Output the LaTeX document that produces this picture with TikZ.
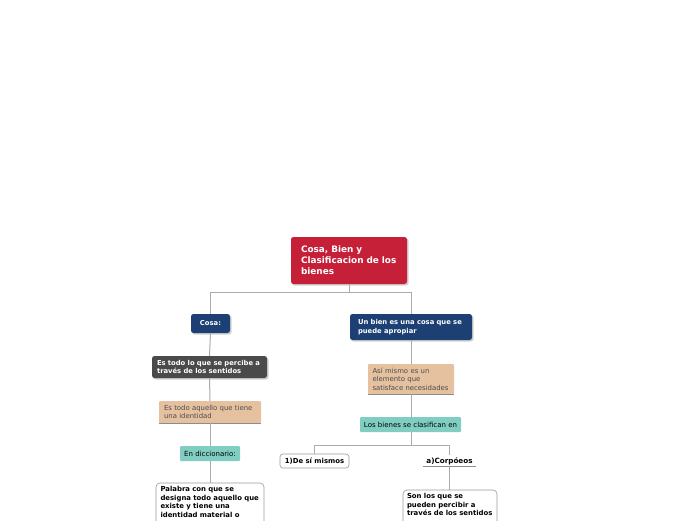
\documentclass[tikz,border=0pt]{standalone}
\usepackage{fontspec}
\setmainfont{DejaVu Sans}
\begin{document}
\begin{tikzpicture}[x=1pt,y=-1pt,
  conn/.style={draw=black!33, line width=1pt},
  basebox/.style={rounded corners=2.5pt, inner ysep=0pt, outer sep=0pt, anchor=center},
  rootbox/.style={basebox, fill=rootred, text=white, font=\bfseries\fontsize{8.9}{10.9}\selectfont, align=left},
  bluebox/.style={basebox, fill=darkblue, text=white, font=\bfseries\fontsize{6.8}{8.6}\selectfont, align=left},
  graybox/.style={basebox, fill=darkgray, text=white, font=\bfseries\fontsize{6.8}{8.6}\selectfont, align=left},
  tanbox/.style={basebox, rounded corners=1pt, fill=tanfill, text=black!70, font=\fontsize{6.9}{8.7}\selectfont, align=left},
  tealbox/.style={basebox, rounded corners=1pt, fill=tealfill, text=black, font=\fontsize{7}{8}\selectfont, align=center},
  whitebox/.style={basebox, rounded corners=4pt, draw=black!40, line width=0.6pt, fill=white, text=black, font=\bfseries\fontsize{6.9}{8.5}\selectfont, align=left},
  opentext/.style={basebox, text=black, font=\bfseries\fontsize{6.9}{8.5}\selectfont, align=left},
  openframe/.style={draw=black!40, line width=0.6pt, rounded corners=4pt}
]
\definecolor{rootred}{HTML}{C61F38}
\definecolor{darkblue}{HTML}{1C3F74}
\definecolor{darkgray}{HTML}{4A4A4A}
\definecolor{tanfill}{HTML}{E5C1A0}
\definecolor{tealfill}{HTML}{7FCEC1}
\useasboundingbox (0,0) rectangle (696,520);
\clip (0,0) rectangle (696,520);

% shadows
\fill[black!18, rounded corners=2.5pt] (292,238.5) rectangle (408.5,285.5);
\fill[black!18, rounded corners=2.5pt] (192,315.5) rectangle (231.5,334.5);
\fill[black!18, rounded corners=2.5pt] (351,315.5) rectangle (473.5,341.5);
\fill[black!18, rounded corners=2.5pt] (153,357.5) rectangle (268.5,379.5);

\node[rootbox, minimum width=116, minimum height=47, inner xsep=10pt, text width=96] (root) at (349,260.5)
  {Cosa, Bien y\\Clasificacion de los\\bienes};
\node[bluebox, minimum width=39, minimum height=19, inner xsep=2pt, align=center] (cosa) at (210.5,323.5) {Cosa:};
\node[bluebox, minimum width=122, minimum height=26, inner xsep=8pt, text width=106] (ubien) at (411,327)
  {Un bien es una cosa que se\\puede apropiar};
\node[graybox, minimum width=115, minimum height=22, inner xsep=5pt, text width=105] (percibe) at (209.5,367)
  {Es todo lo que se percibe a\\través de los sentidos};
\node[tanbox, minimum width=102, minimum height=22, inner xsep=5pt, text width=92] (aquello) at (210,412)
  {Es todo aquello que tiene\\una identidad};
\node[tealbox, minimum width=60, minimum height=15, inner xsep=2pt] (dicc) at (210,453.5) {En diccionario:};
\node[opentext, anchor=north west, minimum width=108, inner xsep=4.5pt, inner ysep=3.5pt, text width=99] (palabra) at (156,483)
  {Palabra con que se\\designa todo aquello que\\existe y tiene una\\identidad material o};
\draw[openframe] (palabra.north west) rectangle ([yshift=-30pt]palabra.south east);
\node[tealbox, minimum width=86, minimum height=30, inner xsep=4.5pt, text width=77, fill=tanfill, text=black!70, font=\fontsize{6.9}{8.7}\selectfont, align=left] (asi) at (411,379)
  {Así mismo es un\\elemento que\\satisface necesidades};
\node[tealbox, minimum width=101, minimum height=15, inner xsep=2pt] (clasif) at (410.5,424.5) {Los bienes se clasifican en};
\node[whitebox, rounded corners=3pt, minimum width=69, minimum height=14, inner xsep=2pt, align=center] (mismos) at (314.5,461) {1)De sí mismos};
\node[font=\bfseries\fontsize{7.2}{8}\selectfont, inner sep=0pt, minimum width=53, minimum height=12] (corp) at (449.5,461) {a)Corpóeos};
\node[opentext, anchor=north west, minimum width=94, inner xsep=4pt, inner ysep=3.5pt, text width=86] (son) at (403,490)
  {Son los que se\\pueden percibir a\\través de los sentidos};
\draw[openframe] (son.north west) rectangle ([yshift=-30pt]son.south east);

% underlines
\draw[black!45, line width=0.6pt] (aquello.south west) -- (aquello.south east);
\draw[black!45, line width=0.6pt] (asi.south west) -- (asi.south east);
\draw[black!45, line width=0.6pt] ([yshift=0.5pt]corp.south west) -- ([yshift=0.5pt]corp.south east);

% connectors
\coordinate (j1) at (349,292);
\coordinate (j2) at (411,445);
\draw[conn] (root.south) -- (j1);
\draw[conn] (j1) -| (cosa.north);
\draw[conn] (j1) -| (ubien.north);
\draw[conn] (cosa.south) -- (percibe.north);
\draw[conn] (percibe.south) -- (aquello.north);
\draw[conn] (aquello.south) -- (dicc.north);
\draw[conn] (dicc.south) -- (palabra.north-|dicc.south);
\draw[conn] (ubien.south) -- (asi.north);
\draw[conn] (asi.south) -- (clasif.north-|asi.south);
\draw[conn] (clasif.south-|j2) -- (j2);
\draw[conn] (j2) -| (mismos.north);
\draw[conn] (j2) -| (corp.north);
\draw[conn] ([yshift=0.5pt]corp.south) -- (son.north-|corp.south);
\end{tikzpicture}
\end{document}
